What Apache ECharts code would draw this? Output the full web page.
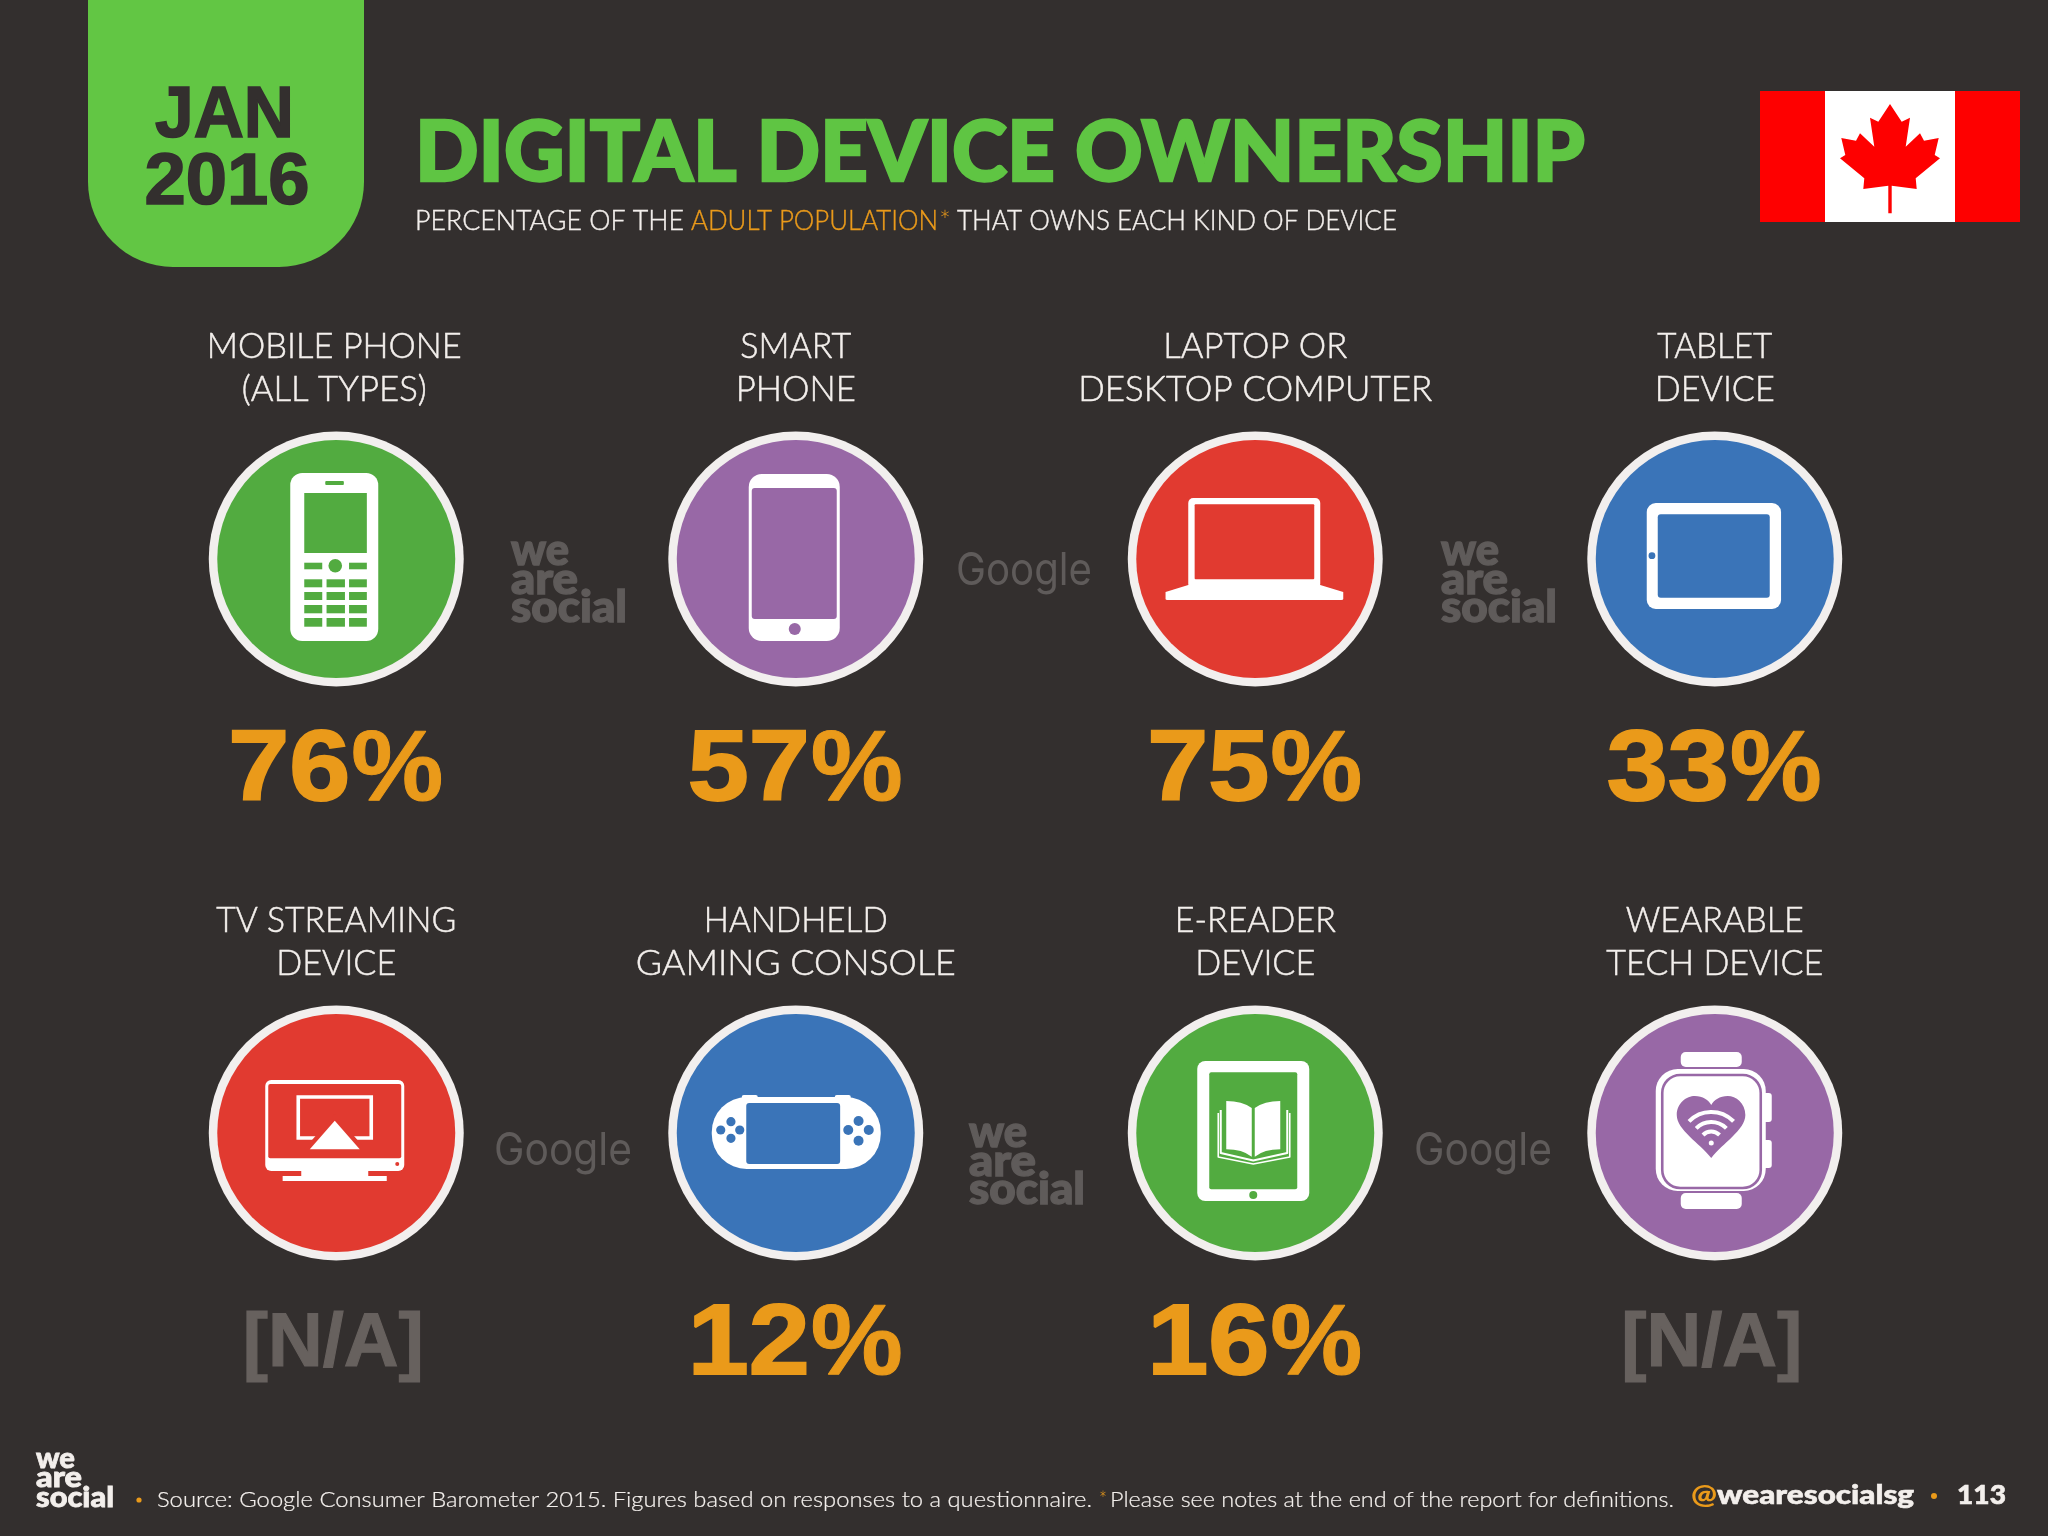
<!DOCTYPE html>
<html><head><meta charset="utf-8">
<style>html,body{margin:0;padding:0;background:#332f2e}#c{width:2048px;height:1536px}</style>
<script src="https://cdn.jsdelivr.net/npm/echarts@6/dist/echarts.min.js"></script>
</head><body><div id="c"></div>
<script>
// ---- data ----
const titleText = 'DIGITAL DEVICE OWNERSHIP';
const dateLines = ['JAN', '2016'];
const subtitleParts = ['PERCENTAGE OF THE', 'ADULT POPULATION', '*', 'THAT OWNS EACH KIND OF DEVICE'];
const sourceText = 'Source: Google Consumer Barometer 2015. Figures based on responses to a questionnaire.';
const noteText = 'Please see notes at the end of the report for definitions.';
const columnNames = ['col1', 'col2', 'col3', 'col4'];
const rowNames = ['row1', 'row2'];
const deviceLines = [
  ['MOBILE PHONE', '(ALL TYPES)'], ['SMART', 'PHONE'], ['LAPTOP OR', 'DESKTOP COMPUTER'], ['TABLET', 'DEVICE'],
  ['TV STREAMING', 'DEVICE'], ['HANDHELD', 'GAMING CONSOLE'], ['E-READER', 'DEVICE'], ['WEARABLE', 'TECH DEVICE']
];
const ownershipValues = [76, 57, 75, 33, null, 12, 16, null];
const deviceIcons = ['feature', 'smart', 'laptop', 'tablet', 'tv', 'console', 'ereader', 'watch'];
const deviceColors = ['#52ab40', '#9868a6', '#e13a30', '#3a74b8', '#e13a30', '#3a74b8', '#52ab40', '#9868a6'];

// ---- style ----
const labelWidths = [[255, 185], [111, 120], [184, 354], [115, 120], [240, 120], [184, 320], [161, 120], [178, 217]];
const BG = '#332f2e', WHITE = '#f3efec', ORANGE = '#ea9a1a', GREEN = '#5fc543', GREY = '#5f5b5a', NA = '#67615e';
const ctx = document.createElement('canvas').getContext('2d');
function fit(text, font, w) { ctx.font = font; ctx.textBaseline = 'alphabetic'; return w / ctx.measureText(text).width; }
function midY(font, base) { ctx.font = font; ctx.textBaseline = 'middle'; const d = ctx.measureText('H').actualBoundingBoxDescent; return base - d; }
function txt(text, font, x, base, fill, align, width, heavy) {
  const el = { type: 'text', x: x, y: midY(font, base), silent: true,
    style: { text: text, font: font, fill: fill, align: align || 'left', verticalAlign: 'middle' } };
  if (width) { el.scaleX = fit(text, font, width); }
  if (heavy) { el.style.stroke = fill; el.style.lineWidth = heavy; el.style.lineJoin = 'round'; }
  return el;
}
function rect(x0, x1, y0, y1, r, fill) { return { type: 'rect', shape: { x: x0, y: y0, width: x1 - x0, height: y1 - y0, r: r }, style: { fill: fill } }; }
function circ(x, y, r, fill) { return { type: 'circle', shape: { cx: x, cy: y, r: r }, style: { fill: fill } }; }
function poly(d, fill) { return { type: 'path', shape: { pathData: d }, style: { fill: fill } }; }
function line(d, stroke, w) { return { type: 'path', shape: { pathData: d }, style: { fill: 'none', stroke: stroke, lineWidth: w, lineJoin: 'round' } }; }
function wifi(r, c) { return { type: 'arc', shape: { cx: -3.5, cy: 10, r: r, startAngle: -Math.PI / 2 - 0.8, endAngle: -Math.PI / 2 + 0.8, clockwise: true }, style: { fill: 'none', stroke: c, lineWidth: 4 } }; }

const W = '#ffffff';
const icons = {
  feature(c) {
    const out = [rect(-46, 42, -86, 82, 12, W), rect(-11, 7.6, -78, -74, 1, c), rect(-32, 30.6, -66, -6, 0, c),
      rect(-32, -14, 3.7, 10.3, 0, c), rect(12.8, 30.6, 3.7, 10.3, 0, c), circ(-1, 6.7, 6.8, c)];
    [[20.3, 28.3], [33, 41], [46, 54.3], [59, 67.7]].forEach(function (r) {
      [[-32, -14], [-9.7, 8.7], [12.8, 30.6]].forEach(function (k) { out.push(rect(k[0], k[1], r[0], r[1], 0, c)); });
    });
    return out;
  },
  smart(c) { return [rect(-47, 44, -85, 82, 13, W), rect(-44, 41, -71, 60, 3, c), circ(-1, 70, 6, c)]; },
  laptop(c) {
    return [rect(-67, 65, -61, 30, 5, W), rect(-60.6, 59, -54.7, 20.3, 1, c),
      poly('M-67 26L-89.7 33L-89.7 40Q-89.7 41 -88 41L86 41Q88 41 88 40L88 33L65 26Z', W)];
  },
  tablet(c) { return [rect(-68, 66.3, -56, 50, 9, W), rect(-57, 55, -44.7, 38.7, 3, c), circ(-62.8, -3.3, 3.4, c)]; },
  tv(c) {
    return [rect(-71, 68, -53, 38, 6, W), rect(-68, 65, -49, 25.3, 2, c), circ(61, 31, 2, c),
      rect(-35, 32, 37, 44, 0, W), rect(-53.6, 50.5, 43, 48, 0, W),
      { type: 'rect', shape: { x: -38, y: -36, width: 73, height: 41 }, style: { fill: 'none', stroke: W, lineWidth: 3.6 } },
      poly('M-1.5 -19L-33 17L30 17Z', c), poly('M-1.5 -12.3L-26.5 16.3L23.5 16.3Z', W)];
  },
  console(c) {
    const out = [rect(-84, 85, -36, 36, 35, W), rect(-54, -38, -38, -30, 2, W), rect(39, 55, -38, -30, 2, W),
      rect(-49.5, 44.4, -30, 31, 3, c)];
    [[-64.8, -11.3], [-64.8, 5.3], [-75, -3], [-56, -3]].forEach(function (p) { out.push(circ(p[0], p[1], 4.6, c)); });
    [[62.8, -12], [62.8, 7.7], [52.5, -3], [73, -3]].forEach(function (p) { out.push(circ(p[0], p[1], 5, c)); });
    return out;
  },
  ereader(c) {
    return [rect(-58, 54, -72, 68, 8, W), rect(-46, 42, -60.7, 56.3, 2, c), circ(-2, 62, 4, c),
      line('M-34.5 -23L-34.5 20L-2 27.5L32 20L32 -23', W, 2), line('M-37 -20L-37 24L-2 31L34.5 24L34.5 -20', W, 1.6),
      poly('M-29 -32Q-13 -32 -3.5 -25L-3.5 23.7Q-13 16.3 -29 16.3Z', W), poly('M-0.5 -25Q9 -32 25 -32L25 16.3Q9 16.3 -0.5 23.7Z', W)];
  },
  watch(c) {
    return [rect(-34, 27, -81, -66, 5, W), rect(-34, 27, 60, 76, 5, W), rect(46, 57, -40, -11, 3, W), rect(46, 57, 7, 35, 3, W),
      rect(-59, 51, -64, 58, 22, W),
      { type: 'rect', shape: { x: -52.5, y: -58, width: 98.5, height: 113, r: 18 }, style: { fill: 'none', stroke: c, lineWidth: 2.6 } },
      poly('M-3.5 25C-15 10 -38 -3 -38 -18C-38 -30 -28 -37 -20 -37C-12 -37 -6 -33 -3.5 -28C-1 -33 5 -37 13 -37C21 -37 30.6 -30 30.6 -18C30.6 -3 8 10 -3.5 25Z', c),
      wifi(31, W), wifi(21, W), wifi(11.5, W), circ(-3.5, 10, 2.5, W)];
  }
};

const cellData = ownershipValues.map(function (v, i) { return [i % 4, Math.floor(i / 4), v == null ? '-' : v, i]; });
const labelFont = '300 36px Lato';
const pctFont = 'bold 100px "Liberation Sans"', naFont = 'bold 76px "Liberation Sans"';

function renderCell(params, api) {
  const i = api.value(3), p = api.coord([api.value(0), api.value(1)]), cx = p[0], cy = p[1];
  const v = ownershipValues[i], c = deviceColors[i];
  const kids = [circ(0, 0, 127.5, '#f2efee'), circ(0, 0, 119, c)].concat(icons[deviceIcons[i]](c));
  const ring = { type: 'group', x: cx, y: cy, children: kids };
  const lines = deviceLines[i], lx = i === 0 ? cx - 2 : cx;
  const t1 = txt(lines[0], labelFont, lx, cy - 201, WHITE, 'center', labelWidths[i][0], 0.5);
  const t2 = txt(lines[1], labelFont, lx, cy - 158.5, WHITE, 'center', labelWidths[i][1], 0.5);
  const kidsOut = [ring, t1, t2];
  if (v == null) {
    kidsOut.push(txt('[N/A]', naFont, cx - 3, cy + 233, NA, 'center', 181, 1.2));
  } else {
    kidsOut.push(txt(String(v), pctFont, cx - 47, cy + 241, ORANGE, 'center', 122, 2));
    kidsOut.push(txt('%', pctFont, cx + 61, cy + 241, ORANGE, 'center', 92, 1));
  }
  return { type: 'group', children: kidsOut };
}

function mark(x, b) {
  const f = '900 43px Lato', s = 1.4;
  return [txt('we', f, x, b, GREY, 'left', 58, s), txt('are', f, x, b + 28.5, GREY, 'left', 67, s), txt('social', f, x, b + 57, GREY, 'left', 116, s)];
}
function gmark(x, b, w) { return txt('Google', '400 45px Inter', x, b, GREY, 'left', w); }

const subFont = '300 28px Lato', footFont = '300 22px Lato', handleFont = '900 27px Lato';
const leafPoints = [[1890,104],[1901.7,121.7],[1910,117.7],[1905.7,146.7],[1920,133.3],[1924,140.7],[1938.7,138],[1934.7,155],[1940,158.3],[1915.7,178.3],[1916.7,189],[1891.7,185.7],[1891.7,213.3],[1888.3,213.3],[1888.3,185.7],[1863.3,189],[1864.3,178.3],[1840,158.3],[1845.3,155],[1841.3,138],[1856,140.7],[1860,133.3],[1874.3,146.7],[1870,117.7],[1878.3,121.7]];

const chrome = [
  rect(88, 364, -90, 267, 85, '#62c644'),
  txt(dateLines[0], 'bold 72px "Liberation Sans"', 224.5, 137, BG, 'center', 139, 1.6),
  txt(dateLines[1], 'bold 72px "Liberation Sans"', 227, 204, BG, 'center', 165, 1.6),
  txt(titleText, '900 84px Lato', 415, 181, GREEN, 'left', 1170, 2.4),
  txt(subtitleParts[0], subFont, 415, 230, WHITE, 'left', 269, 0.4),
  txt(subtitleParts[1], subFont, 691, 230, ORANGE, 'left', 247, 0.4),
  txt(subtitleParts[2], subFont, 939, 230, ORANGE, 'left', 12),
  txt(subtitleParts[3], subFont, 957, 230, WHITE, 'left', 440, 0.4),
  rect(1760, 2020, 91, 222, 0, '#fe0000'), rect(1825, 1955, 91, 222, 0, '#ffffff'),
  { type: 'polygon', shape: { points: leafPoints }, style: { fill: '#fe0000' } },
  gmark(956, 584.5, 136), gmark(494, 1164.5, 138), gmark(1414, 1164.5, 138)
].concat(mark(511, 565), mark(1441, 565), mark(969, 1147), [
  txt('we', '900 29px Lato', 36, 1468, WHITE, 'left', 39, 0.8),
  txt('are', '900 29px Lato', 36, 1487, WHITE, 'left', 46, 0.8),
  txt('social', '900 29px Lato', 36, 1507, WHITE, 'left', 78, 0.8),
  circ(139, 1500, 2.6, ORANGE),
  txt(sourceText, footFont, 157, 1507, WHITE, 'left', 935, 0.2),
  txt('*', footFont, 1099, 1507, ORANGE, 'left', 8),
  txt(noteText, footFont, 1110, 1507, WHITE, 'left', 564, 0.2),
  txt('@', handleFont, 1691, 1504, ORANGE, 'left', 26),
  txt('wearesocialsg', handleFont, 1717, 1504, WHITE, 'left', 197, 0.6),
  circ(1934, 1496, 3, ORANGE),
  txt('113', handleFont, 1957, 1504, WHITE, 'left', 49, 0.6)
]);

const chart = echarts.init(document.getElementById('c'), null, { width: 2048, height: 1536, renderer: 'canvas' });
chart.setOption({
  animation: false,
  backgroundColor: BG,
  grid: { left: 106.5, top: 272, width: 1838, height: 1148 },
  xAxis: { type: 'category', data: columnNames, show: false },
  yAxis: { type: 'category', data: rowNames, inverse: true, show: false },
  graphic: { elements: chrome.map(function (e) { return Object.assign({ silent: true }, e); }) },
  series: [{
    type: 'custom', coordinateSystem: 'cartesian2d', clip: false, silent: true,
    renderItem: renderCell, data: cellData, encode: { x: 0, y: 1 }
  }]
});
</script></body></html>
